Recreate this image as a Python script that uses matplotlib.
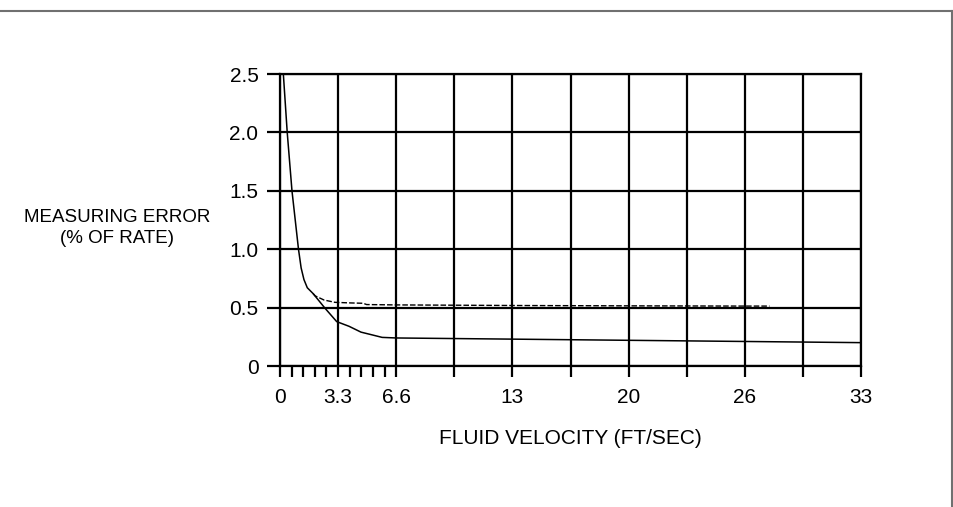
import numpy as np
import matplotlib
matplotlib.use("Agg")
import matplotlib.pyplot as plt
from matplotlib.lines import Line2D

plt.rcParams['font.family'] = ['Liberation Sans', 'DejaVu Sans']

# measuring error vs. fluid velocity
velocity_solid = [0.19, 0.41, 0.68, 1.05, 1.2, 1.36, 1.55, 1.88, 2.56, 3.22, 3.92, 4.6, 5.27, 5.8, 6.6, 13.2, 19.8, 26.4, 33.0]
error_solid = [2.5, 2.0, 1.5, 1.0, 0.84, 0.74, 0.67, 0.62, 0.494, 0.38, 0.34, 0.29, 0.265, 0.245, 0.24, 0.23, 0.22, 0.21, 0.20]

velocity_dashed = [1.88, 2.0, 2.5, 3.12, 4.0, 4.73, 4.92, 6.6, 13.2, 19.8, 26.4, 27.8]
error_dashed = [0.62, 0.60, 0.565, 0.545, 0.54, 0.537, 0.526, 0.523, 0.518, 0.515, 0.513, 0.513]

x_major = np.linspace(0, 33, 11)
x_labels = ['0', '3.3', '6.6', '', '13', '', '20', '', '26', '', '33']
x_minor = np.linspace(0, 6.6, 11)
y_ticks = [0, 0.5, 1.0, 1.5, 2.0, 2.5]
y_labels = ['0', '0.5', '1.0', '1.5', '2.0', '2.5']

fig = plt.figure(figsize=(9.54, 5.07), dpi=100)
ax = fig.add_axes([280 / 954, 1 - 366 / 507, 581 / 954, 292 / 507])

ax.plot(velocity_solid, error_solid, color='black', lw=1.1, solid_joinstyle='round')
ax.plot(velocity_dashed, error_dashed, color='black', lw=1.0, dashes=(4, 1.5))

ax.set_xlim(0, 33)
ax.set_ylim(0, 2.5)
ax.set_xticks(x_major, x_labels)
ax.set_xticks(x_minor, minor=True)
ax.set_yticks(y_ticks, y_labels)
ax.grid(True, which='major', color='black', lw=1.6)
ax.set_axisbelow(False)

for s in ax.spines.values():
    s.set_linewidth(1.6)
ax.tick_params(axis='x', which='both', direction='out', length=8, width=1.6,
               labelsize=15, pad=8)
ax.tick_params(axis='y', direction='out', length=9.5, width=1.6,
               labelsize=15, pad=6)

ax.set_xlabel('FLUID VELOCITY (FT/SEC)', fontsize=15, labelpad=16)
fig.text(117 / 954, 1 - 228 / 507, 'MEASURING ERROR\n(% OF RATE)', fontsize=13.5,
         ha='center', va='center', linespacing=1.3)

# page frame (top and right edges)
fig.add_artist(Line2D([0, 952 / 954], [1 - 10.5 / 507, 1 - 10.5 / 507],
                      transform=fig.transFigure, color='#707070', lw=1.5))
fig.add_artist(Line2D([952 / 954, 952 / 954], [1 - 10.5 / 507, 0],
                      transform=fig.transFigure, color='#707070', lw=1.5))

fig.savefig('out.png', dpi=100)
